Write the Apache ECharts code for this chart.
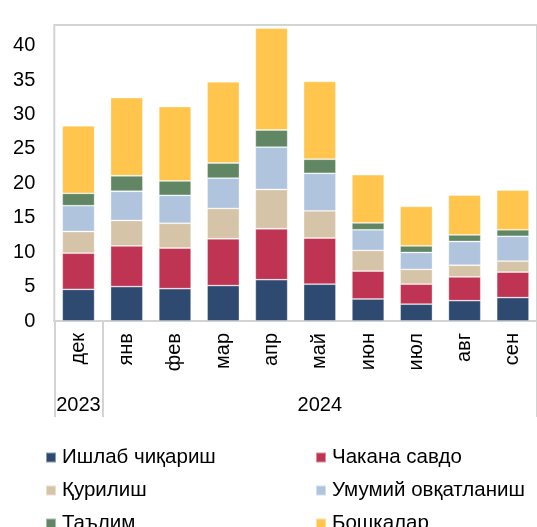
<!DOCTYPE html>
<html><head><meta charset="utf-8">
<script src="https://cdn.jsdelivr.net/npm/echarts@6/dist/echarts.min.js"></script>
<style>html,body{margin:0;padding:0;background:#fff}#c{width:537px;height:527px}</style>
</head><body><div id="c"></div>
<script>
const months = ['дек','янв','фев','мар','апр','май','июн','июл','авг','сен'];
const years = ['2023','2024'];
const yearStart = [0, 1];
const manufacturing = [4.6, 5.0, 4.7, 5.15, 6.0, 5.35, 3.2, 2.45, 2.95, 3.4];
const retail = [5.25, 5.9, 5.9, 6.8, 7.4, 6.7, 4.05, 2.9, 3.45, 3.7];
const construction = [3.15, 3.7, 3.6, 4.4, 5.7, 3.95, 3.0, 2.15, 1.7, 1.6];
const catering = [3.75, 4.25, 4.05, 4.4, 6.15, 5.45, 3.0, 2.45, 3.45, 3.6];
const education = [1.8, 2.25, 2.1, 2.2, 2.5, 2.05, 1.0, 0.95, 0.95, 0.95];
const other = [9.8, 11.35, 10.8, 11.8, 14.8, 11.3, 7.0, 5.75, 5.8, 5.75];
const names = ['Ишлаб чиқариш','Чакана савдо','Қурилиш','Умумий овқатланиш','Таълим','Бошкалар'];
const values = [manufacturing, retail, construction, catering, education, other];
const colors = ['#2E4A70','#BE3452','#D6C4A8','#B0C4DE','#608663','#FFC54D'];

const yearLabelAt = {};
years.forEach((y, i) => {
  const s = yearStart[i];
  const e = i + 1 < yearStart.length ? yearStart[i + 1] - 1 : months.length - 1;
  yearLabelAt[Math.floor((s + e + 1) / 2)] = y;
});
const boundaries = new Set(yearStart);

const font = 'Liberation Sans, Arial, sans-serif';
const legendBase = { orient: 'vertical', top: 447, height: 120, padding: 0, itemWidth: 10, itemHeight: 10, itemGap: 12,
  icon: 'rect', textStyle: { fontSize: 20.5, color: '#000', fontFamily: font, padding: [0,0,0,1] } };
const chart = echarts.init(document.getElementById('c'));
chart.setOption({
  animation: false,
  textStyle: { fontFamily: font },
  grid: { left: 54.3, right: -7.3, top: 25, bottom: 206, show: true, borderColor: '#D3D3D3', borderWidth: 2, containLabel: false },
  legend: [
    Object.assign({ data: [names[0], names[2], names[4]], left: 45 }, legendBase),
    Object.assign({ data: [names[1], names[3], names[5]], left: 315 }, legendBase)
  ],
  xAxis: [
    { type: 'category', data: months, axisLine: { show: true, lineStyle: { color: '#D3D3D3', width: 2 } },
      axisTick: { show: false },
      axisLabel: { rotate: 90, margin: 12, fontSize: 20, color: '#000', fontFamily: font, interval: 0 } },
    { type: 'category', data: months, position: 'bottom', axisLine: { show: false },
      axisTick: { show: true, length: 96, interval: (i) => boundaries.has(i), lineStyle: { color: '#D3D3D3', width: 2 } },
      axisLabel: { interval: 0, margin: 74, fontSize: 20, color: '#000', fontFamily: font,
        formatter: (v, i) => yearLabelAt[i] || '' } }
  ],
  yAxis: { type: 'value', min: 0, max: 43, interval: 5, splitLine: { show: false },
    axisLine: { show: false }, axisTick: { show: false },
    axisLabel: { showMaxLabel: false, margin: 19, fontSize: 20, color: '#000', fontFamily: font,
      formatter: (v) => (v % 5 === 0 ? String(v) : '') } },
  series: names.map((n, k) => ({
    name: n, type: 'bar', stack: 'total', data: values[k], barCategoryGap: '33%',
    itemStyle: { color: colors[k], borderColor: 'rgba(255,255,255,0.45)', borderWidth: 0.8 }
  }))
});
</script></body></html>
